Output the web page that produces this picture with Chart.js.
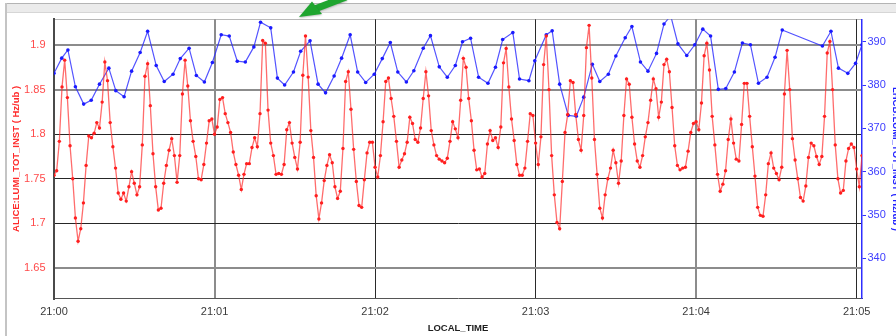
<!DOCTYPE html>
<html>
<head>
<meta charset="utf-8">
<title>ALICE / LHCb luminosity</title>
<script src="https://cdn.jsdelivr.net/npm/chart.js@4/dist/chart.umd.min.js"></script>
<style>
  html, body { margin: 0; padding: 0; background: #ffffff; }
  #wrap { width: 896px; height: 336px; position: relative; }
  canvas { display: block; }
</style>
</head>
<body>
<div id="wrap"><canvas id="lumi" width="896" height="336"></canvas></div>
<script>
// Time axis: seconds after 21:00:00
const TIME_TICKS = [0, 60, 120, 180, 240, 300];
const TIME_LABELS = ['21:00', '21:01', '21:02', '21:03', '21:04', '21:05'];

// Left axis (ALICE) ticks
const ALICE_TICKS = [1.65, 1.7, 1.75, 1.8, 1.85, 1.9];
// Right axis (LHCb) ticks
const LHCB_TICKS = [340, 350, 360, 370, 380, 390];

// ALICE:LUMI_TOT_INST, one sample per second starting at 21:00:00
const ALICE_STEP_S = 1;
const ALICE_LUMI = [
  1.754,1.759,1.792,1.853,1.883,1.841,1.787,1.750,1.706,1.680,
  1.694,1.723,1.765,1.798,1.796,1.801,1.813,1.807,1.836,1.881,
  1.860,1.813,1.786,1.762,1.734,1.727,1.734,1.725,1.741,1.758,
  1.745,1.732,1.741,1.788,1.865,1.879,1.832,1.778,1.741,1.715,
  1.717,1.745,1.765,1.782,1.795,1.776,1.746,1.776,1.845,1.883,
  1.854,1.815,1.792,1.775,1.750,1.749,1.766,1.790,1.815,1.817,
  1.800,1.808,1.839,1.841,1.823,1.813,1.802,1.780,1.766,1.754,
  1.738,1.755,1.767,1.767,1.785,1.796,1.786,1.823,1.905,1.902,
  1.827,1.790,1.776,1.755,1.756,1.755,1.766,1.805,1.813,1.790,
  1.774,1.761,1.791,1.866,1.910,1.864,1.804,1.774,1.731,1.705,
  1.723,1.748,1.765,1.777,1.768,1.741,1.728,1.736,1.784,1.859,
  1.870,1.828,1.783,1.747,1.720,1.718,1.749,1.779,1.791,1.791,
  1.763,1.752,1.776,1.814,1.859,1.863,1.840,1.820,1.792,1.763,
  1.771,1.778,1.791,1.819,1.812,1.794,1.791,1.807,1.840,1.870,
  1.843,1.804,1.788,1.776,1.772,1.770,1.768,1.773,1.792,1.814,
  1.806,1.796,1.838,1.885,1.875,1.840,1.815,1.782,1.760,1.761,
  1.752,1.756,1.789,1.804,1.793,1.796,1.785,1.808,1.880,1.896,
  1.853,1.817,1.793,1.766,1.754,1.754,1.762,1.792,1.823,1.821,
  1.790,1.766,1.797,1.878,1.910,1.850,1.776,1.732,1.701,1.694,
  1.747,1.802,1.822,1.860,1.858,1.822,1.794,1.782,1.821,1.897,
  1.922,1.863,1.794,1.755,1.717,1.706,1.732,1.750,1.762,1.782,
  1.768,1.745,1.770,1.821,1.862,1.856,1.819,1.789,1.770,1.763,
  1.776,1.797,1.813,1.838,1.862,1.851,1.819,1.836,1.878,1.884,
  1.870,1.830,1.787,1.765,1.760,1.762,1.763,1.781,1.802,1.812,
  1.814,1.805,1.835,1.888,1.902,1.872,1.820,1.788,1.755,1.736,
  1.744,1.759,1.794,1.817,1.790,1.772,1.770,1.811,1.857,1.857,
  1.820,1.786,1.753,1.718,1.709,1.708,1.732,1.767,1.779,1.762,
  1.756,1.749,1.763,1.845,1.894,1.850,1.795,1.771,1.750,1.729,
  1.725,1.742,1.774,1.790,1.787,1.775,1.766,1.775,1.820,1.891,
  1.904,1.850,1.788,1.750,1.734,1.737,1.770,1.784,1.789,1.785,
  1.761,1.741,1.776
];

// LHCB:LUMI_TOT_INST, irregular sampling (seconds after 21:00:00)
const LHCB_TIME_S = [
  0, 2.9, 5.2, 8, 11.1, 13.9, 17, 20.5, 23.1, 26.2,
  29, 32.2, 35, 38.2, 41.2, 44.5, 47.2, 50.5, 53.2, 56.2,
  59.2, 62.5, 65.5, 68.5, 71.5, 74.7, 77.2, 81, 83.5, 86.2,
  89.5, 92.2, 95.7, 98.7, 101.5, 104.7, 107.5, 110.7, 113.5, 116.5,
  119.7, 122.7, 125.7, 128.5, 131.7, 134.5, 138, 140.7, 144, 147,
  150, 152.7, 155.7, 158.7, 162.2, 165, 167.7, 171.5, 174, 177.5,
  179.7, 184, 186.2, 189, 192.2, 195.2, 198, 201.2, 204, 207.2,
  210, 213.5, 216, 219.2, 222, 225.2, 228, 230.5, 233.2, 236.5,
  239.5, 242.5, 245.4, 248.3, 251.1, 254.3, 257.3, 260.3, 263.3, 266.5,
  269.5, 272.2, 287.2, 290.4, 293.2, 296.7, 299.6, 302
];
const LHCB_LUMI = [
  382.7, 386.2, 388.1, 379.6, 375.6, 376.5, 380.2, 383.9, 378.7, 377.3,
  383.2, 387.5, 392.4, 384.5, 380.8, 382.5, 386.1, 388.5, 382.2, 380.7,
  385.2, 391.6, 391.3, 385.5, 385.3, 388.8, 394.5, 393.2, 381.6, 380.0,
  383.0, 387.8, 390.2, 380.2, 378.2, 382.1, 386.2, 391.6, 383.0, 380.6,
  382.5, 386.1, 389.8, 383.0, 380.7, 383.3, 388.5, 391.4, 384.2, 381.8,
  384.5, 390.0, 390.8, 381.8, 380.4, 384.1, 390.5, 392.1, 381.4, 381.0,
  385.6, 391.6, 392.5, 380.2, 373.0, 372.8, 377.2, 384.8, 380.8, 382.5,
  386.7, 390.9, 393.5, 385.3, 383.2, 387.3, 394.1, 396.0, 389.5, 386.8,
  389.3, 392.9, 391.3, 379.0, 379.2, 383.0, 389.7, 389.3, 380.4, 381.8,
  386.4, 392.7, 389.0, 392.4, 383.9, 382.7, 385.0, 389.3
];

const alicePoints = ALICE_LUMI.map((v, i) => ({ x: i * ALICE_STEP_S, y: v }));
const lhcbPoints = LHCB_LUMI.map((v, i) => ({ x: LHCB_TIME_S[i], y: v }));

const FONT = "'Liberation Sans', Arial, sans-serif";

// Panel frame, header strip and plot top edge
const framePlugin = {
  id: 'frame',
  beforeDraw(chart) {
    const c = chart.ctx, a = chart.chartArea;
    c.save();
    c.fillStyle = '#ffffff';
    c.fillRect(0, 0, chart.width, chart.height);
    c.fillStyle = '#ebebeb';
    c.fillRect(6, 3.5, chart.width - 6, 8.5);
    c.strokeStyle = '#b4b4b4';
    c.lineWidth = 1;
    c.beginPath(); c.moveTo(6, 3.5); c.lineTo(chart.width, 3.5); c.stroke();
    c.strokeStyle = '#d6d6d6';
    c.beginPath(); c.moveTo(6, 12.5); c.lineTo(chart.width, 12.5); c.stroke();
    c.strokeStyle = '#c4c4c4';
    c.lineWidth = 2;
    c.beginPath(); c.moveTo(6, 3); c.lineTo(6, chart.height); c.stroke();
    c.strokeStyle = '#b8b8b8';
    c.lineWidth = 1;
    c.beginPath(); c.moveTo(a.left, Math.round(a.top) + 0.5); c.lineTo(a.right, Math.round(a.top) + 0.5); c.stroke();
    c.restore();
  }
};

// Green pointer arrow near the top edge
const arrowPlugin = {
  id: 'arrow',
  afterDraw(chart) {
    const c = chart.ctx;
    c.save();
    c.fillStyle = '#1fa52f';
    c.strokeStyle = '#1fa52f';
    c.shadowColor = 'rgba(0,0,0,0.25)';
    c.shadowBlur = 2;
    c.shadowOffsetY = 1;
    c.lineWidth = 7;
    c.lineCap = 'butt';
    c.beginPath(); c.moveTo(316, 8.5); c.lineTo(346, -3); c.stroke();
    c.beginPath();
    c.moveTo(299, 17);
    c.lineTo(312, 1.5);
    c.lineTo(322, 14);
    c.closePath();
    c.fill();
    c.restore();
  }
};

const yGridGray = [1.9, 1.85, 1.65];
const xGridGray = [60, 240];

new Chart(document.getElementById('lumi'), {
  type: 'line',
  data: {
    datasets: [
      {
        label: 'ALICE:LUMI_TOT_INST',
        data: alicePoints,
        yAxisID: 'y',
        borderColor: 'rgba(255,45,45,0.7)',
        borderWidth: 1.3,
        pointRadius: 1.7,
        pointBorderWidth: 0,
        pointBackgroundColor: '#ff1f1f',
        tension: 0
      },
      {
        label: 'LHCB:LUMI_TOT_INST',
        data: lhcbPoints,
        yAxisID: 'y1',
        borderColor: 'rgba(40,40,255,0.8)',
        borderWidth: 1.2,
        pointRadius: 1.8,
        pointBorderWidth: 0,
        pointBackgroundColor: '#1a1aff',
        tension: 0
      }
    ]
  },
  options: {
    responsive: false,
    animation: false,
    devicePixelRatio: 1,
    layout: { padding: { top: 19.3, left: 0, right: 0, bottom: 0 } },
    plugins: { legend: { display: false }, tooltip: { enabled: false } },
    scales: {
      x: {
        type: 'linear',
        position: 'bottom',
        min: 0,
        max: 302,
        afterBuildTicks: s => { s.ticks = TIME_TICKS.map(v => ({ value: v })); },
        afterFit: s => { s.height = 37.5; },
        ticks: {
          autoSkip: false,
          maxRotation: 0,
          padding: 6.5,
          color: '#3a3a3a',
          font: { family: FONT, size: 11 },
          callback: v => TIME_LABELS[TIME_TICKS.indexOf(v)]
        },
        grid: {
          drawTicks: false,
          color: c => xGridGray.includes(c.tick && c.tick.value) ? '#8c8c8c' : '#2a2a2a',
          lineWidth: c => xGridGray.includes(c.tick && c.tick.value) ? 2 : 1
        },
        border: { display: true, color: '#555555', width: 1 },
        title: {
          display: true,
          text: 'LOCAL_TIME',
          color: '#1e1e1e',
          font: { family: FONT, size: 9.5, weight: 'bold' },
          padding: { top: 0, bottom: 1.5 }
        }
      },
      y: {
        type: 'linear',
        position: 'left',
        min: 1.6158,
        max: 1.9288,
        afterBuildTicks: s => { s.ticks = ALICE_TICKS.map(v => ({ value: v })); },
        afterFit: s => { s.width = 54; },
        ticks: {
          padding: 8.5,
          color: '#ff4a4a',
          font: { family: FONT, size: 11 },
          callback: v => String(v)
        },
        grid: {
          drawTicks: false,
          color: c => yGridGray.includes(c.tick && c.tick.value) ? '#8c8c8c' : '#262626',
          lineWidth: c => yGridGray.includes(c.tick && c.tick.value) ? 2 : 1
        },
        border: { display: true, color: '#4a4a4a', width: 2 },
        title: {
          display: true,
          text: 'ALICE:LUMI_TOT_INST ( Hz/ub )',
          color: '#ff2a2a',
          font: { family: FONT, size: 9.5, weight: 'bold' },
          padding: { top: 10.5, bottom: 0 }
        }
      },
      y1: {
        type: 'linear',
        position: 'right',
        min: 330.74,
        max: 395.17,
        afterBuildTicks: s => { s.ticks = LHCB_TICKS.map(v => ({ value: v })); },
        afterFit: s => { s.width = 34; },
        ticks: {
          padding: 1.5,
          color: '#3d3dff',
          font: { family: FONT, size: 11 },
          callback: v => String(v)
        },
        grid: {
          drawOnChartArea: false,
          drawTicks: true,
          tickLength: 4,
          tickColor: '#3030ff',
          tickWidth: 1
        },
        border: { display: true, color: '#2e2eff', width: 1.5 },
        title: {
          display: true,
          text: 'LHCB:LUMI_TOT_INST ( Hz/ub )',
          color: '#2020ff',
          font: { family: FONT, size: 9.5, weight: 'bold' },
          padding: { top: -5.5, bottom: 0 }
        }
      }
    }
  },
  plugins: [framePlugin, arrowPlugin]
});
</script>
</body>
</html>
